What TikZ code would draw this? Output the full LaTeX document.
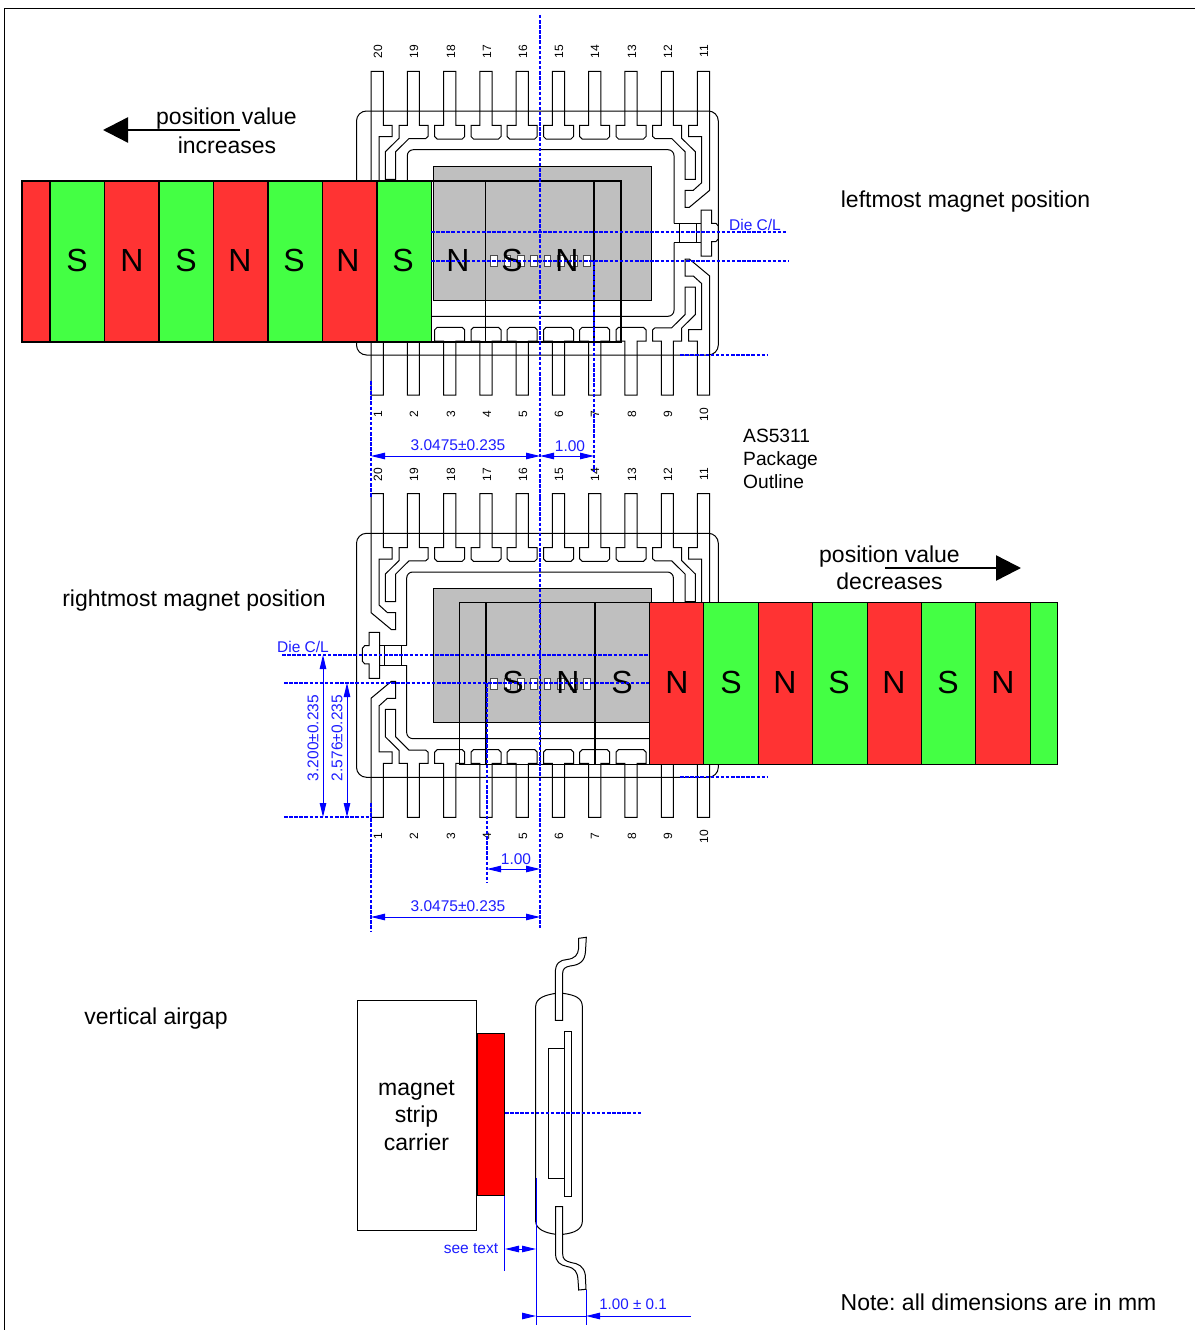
\documentclass[tikz,border=0pt]{standalone}
\usepackage{fontspec}
\setmainfont{Liberation Sans}
\frenchspacing
\usetikzlibrary{arrows.meta}
\definecolor{magred}{RGB}{255,51,51}
\definecolor{maggreen}{RGB}{68,255,68}
\definecolor{diegray}{RGB}{191,191,191}
\definecolor{dimblue}{RGB}{0,0,255}
\definecolor{dimtext}{RGB}{30,30,255}
\tikzset{
  outline/.style={draw=black,line width=1pt,line join=miter},
  centerline/.style={draw=dimblue,line width=1.7pt,dash pattern=on 3.5pt off 1.6pt},
  thindash/.style={draw=dimblue,line width=1.6pt,dash pattern=on 3.5pt off 1.6pt},
  dimline/.style={draw=dimblue,line width=1pt},
  dimarrows/.style={dimline,{Triangle[length=14pt,width=6.5pt]}-{Triangle[length=14pt,width=6.5pt]}},
  dimhead/.style={dimline,-{Triangle[length=14pt,width=6.5pt]}},
  dimlabel/.style={text=dimtext,font=\fontsize{15.5}{17}\selectfont,inner sep=0pt},
  pinlabel/.style={rotate=90,text=black,font=\fontsize{12}{12}\selectfont,inner sep=0pt},
  bigtext/.style={font=\fontsize{23}{27}\selectfont,inner sep=0pt,align=center},
  poletext/.style={font=\fontsize{32}{32}\selectfont,inner sep=0pt},
  bigarrow/.style={draw=black,line width=2.4pt,-{Triangle[length=25pt,width=25pt]}},
  magblock/.style={draw=black,line width=1.2pt},
  magthin/.style={draw=black,line width=0.9pt},
  flipx/.style={xshift=1080.7pt,xscale=-1},
  flipy/.style={yshift=-466.3pt,yscale=-1},
}
% one quarter of the lead frame, upper right corner
\newcommand{\quarterframe}{%
  \foreach \c in {558.5,594.7,631}{
    \draw[outline] (\c-6.2,71.3)--(\c-6.2,125.3)--(\c-15,125.3)--(\c-15,136.5)--(\c-12.5,139)
      --(\c+12.5,139)--(\c+15,136.5)--(\c+15,125.3)--(\c+6.2,125.3)--(\c+6.2,71.3)--cycle;
  }
  \draw[outline] (661.3,71.3)--(661.3,125.3)--(652.7,125.3)--(652.7,136.5)--(655,138.5)--(671.7,138.5)
    --(685,151.7)--(685,179.3)--(695.3,179.3)--(695.3,151.7)--(681.7,138.3)--(681.7,125.3)
    --(673.3,125.3)--(673.3,71.3)--cycle;
  \draw[outline] (697.3,71.3)--(697.3,125.3)--(688.7,125.3)--(688.7,136.7)--(701.7,136.7)
    --(701.7,182.7)--(693.3,190.3)--(685,190.3)--(685,207.3)--(689.3,207.3)--(709.7,190.3)
    --(709.7,71.3)--cycle;
}
\newcommand{\fullframe}{%
  \begin{scope}\quarterframe\end{scope}
  \begin{scope}[flipx]\quarterframe\end{scope}
  \begin{scope}[flipy]\quarterframe\end{scope}
  \begin{scope}[flipx,flipy]\quarterframe\end{scope}
  \draw[outline,rounded corners=6pt] (674,223.3)--(674,149.7)--(407.3,149.7)--(407.3,316.3)--(674,316.3)--(674,242.7);
  \draw[outline] (674,223.3)--(701,223.3) (674,242.7)--(701,242.7)
    (679.3,223.3)--(679.3,242.7) (696,223.3)--(696,242.7);
  \draw[outline] (701,210)--(711.7,210)--(711.7,223.3)--(716,223.3)--(718.3,226)--(718.3,239)
    --(716,241.5)--(711.7,241.5)--(711.7,256)--(701,256)--cycle;
}
\begin{document}
\begin{tikzpicture}[x=1pt,y=-1pt]
\useasboundingbox (0,0) rectangle (1195,1330);
\fill[white] (0,0) rectangle (1195,1330);
\draw[black,line width=0.8pt] (4,1330)--(4,8)--(1195,8);

% ---------- upper package
\fill[diegray,draw=black,line width=0.8pt] (433.3,166.3) rectangle (651.3,300.3);
\foreach \i in {0,...,7}{
  \draw[black!70,fill=white,line width=0.7pt] (490.7+13.3*\i,255.7) rectangle ++(6.7,11);
}
\fullframe
\draw[outline,rounded corners=10pt] (356.5,111) rectangle (718.3,355);
\foreach \xpos/\top/\bot [count=\k] in {378/20/1,414/19/2,451/18/3,487/17/4,523/16/5,559/15/6,595/14/7,632/13/8,668/12/9,704/11/10}{
  \node[pinlabel] (ua\k) at (\xpos,51.5) {\top};
  \node[pinlabel] (ub\k) at (\xpos,414.5) {\bot};
}

% ---------- lower package
\begin{scope}[yshift=-422.3pt]
\fill[diegray,draw=black,line width=0.8pt] (433.3,166.3) rectangle (651.3,300.3);
\foreach \i in {0,...,7}{
  \draw[black!70,fill=white,line width=0.7pt] (490.7+13.3*\i,255.7) rectangle ++(6.7,11);
}
\begin{scope}[flipx]\fullframe\end{scope}
\draw[outline,rounded corners=10pt] (356.5,111) rectangle (718.3,355);
\end{scope}
\foreach \xpos/\top/\bot [count=\k] in {378/20/1,414/19/2,451/18/3,487/17/4,523/16/5,559/15/6,595/14/7,632/13/8,668/12/9,704/11/10}{
  \node[pinlabel] (la\k) at (\xpos,474.5) {\top};
  \node[pinlabel] (lb\k) at (\xpos,836.5) {\bot};
}

% ---------- upper magnet strip
\fill[magred] (22,181) rectangle (50,342);
\foreach \a/\b/\col in {50/104.5/maggreen,104.5/159/magred,159/213.5/maggreen,213.5/268/magred,268/322.5/maggreen,322.5/377/magred,377/431.5/maggreen}{
  \fill[\col] (\a,181) rectangle (\b,342);
}
\draw[magblock] (22,181) rectangle (621,342);
\foreach \a in {50,104.5,159,213.5,268,322.5,377,431.5,594}{
  \draw[magblock] (\a,181)--(\a,342);
}
\draw[magthin] (485.5,181)--(485.5,342);
\foreach \xpos/\pole [count=\k] in {77/S,132/N,186/S,240/N,294/S,348/N,403/S,458/N,512/S,567/N}{
  \node[poletext] (up\k) at (\xpos,260) {\pole};
}

% ---------- lower magnet strip
\foreach \a/\b/\col in {649/703.5/magred,703.5/758/maggreen,758/812.5/magred,812.5/867/maggreen,867/921/magred,921/975.5/maggreen,975.5/1030/magred,1030/1057/maggreen}{
  \fill[\col] (\a,602.5) rectangle (\b,764.5);
}
\draw[magthin] (459,602.5) rectangle (1057,764.5);
\foreach \a in {486,540.5,595}{
  \draw[magblock] (\a,602.5)--(\a,764.5);
}
\foreach \a in {649,703.5,758,812.5,867,921,975.5,1030}{
  \draw[magthin] (\a,602.5)--(\a,764.5);
}
\foreach \xpos/\pole [count=\k] in {513/S,568/N,622/S,677/N,731/S,785/N,839/S,894/N,948/S,1003/N}{
  \node[poletext] (lp\k) at (\xpos,682) {\pole};
}

% ---------- centre lines and dimensions, upper view
\coordinate (cuT) at (540,15);
\coordinate (cuB) at (540,497);
\coordinate (cu1a) at (431,232);
\coordinate (cu1b) at (787,232);
\coordinate (cu2a) at (431,261);
\coordinate (cu2b) at (789,261);
\coordinate (cu3a) at (680,355);
\coordinate (cu3b) at (768,355);
\coordinate (cuL1) at (371,381);
\coordinate (cuL2) at (371,497);
\coordinate (cuR1) at (594,261);
\coordinate (cuR2) at (594,472);
\draw[centerline] (cuT)--(cuB);
\draw[centerline] (cu1a)--(cu1b);
\draw[centerline] (cu2a)--(cu2b);
\draw[centerline] (cu3a)--(cu3b);
\draw[centerline] (cuL1)--(cuL2);
\draw[centerline] (cuR1)--(cuR2);
\coordinate (du1) at (371,456);
\coordinate (du2) at (540,456);
\coordinate (du3) at (594,456);
\draw[dimarrows] (du1)--(du2);
\draw[dimarrows] (du2)--(du3);
\node[dimlabel] (tdu1) at (458,445) {3.0475±0.235};
\node[dimlabel] (tdu2) at (570,446) {1.00};
\node[dimlabel] (tdcu) at (755,225) {Die C/L};

% ---------- centre lines and dimensions, lower view
\coordinate (clT) at (540,497);
\coordinate (clB) at (540,928);
\coordinate (cl1a) at (282,655);
\coordinate (cl1b) at (649,655);
\coordinate (cl2a) at (284,683);
\coordinate (cl2b) at (649,683);
\coordinate (cl3a) at (680,777);
\coordinate (cl3b) at (768,777);
\coordinate (cl4a) at (284,817);
\coordinate (cl4b) at (371,817);
\coordinate (clL1) at (371,803);
\coordinate (clL2) at (371,932);
\coordinate (clM1) at (487,683);
\coordinate (clM2) at (487,882);
\draw[centerline] (clT)--(clB);
\draw[centerline] (cl1a)--(cl1b);
\draw[centerline] (cl2a)--(cl2b);
\draw[centerline] (cl3a)--(cl3b);
\draw[centerline] (cl4a)--(cl4b);
\draw[centerline] (clL1)--(clL2);
\draw[centerline] (clM1)--(clM2);
\coordinate (dl1) at (487,869);
\coordinate (dl2) at (540,869);
\coordinate (dl3) at (371,917);
\coordinate (dl4) at (540,917);
\draw[dimarrows] (dl1)--(dl2);
\draw[dimarrows] (dl3)--(dl4);
\node[dimlabel] (tdl1) at (516,859) {1.00};
\node[dimlabel] (tdl2) at (458,906) {3.0475±0.235};
\node[dimlabel] (tdcl) at (303,647) {Die C/L};
\coordinate (dv1a) at (323,655);
\coordinate (dv1b) at (323,817);
\coordinate (dv2a) at (347,683);
\coordinate (dv2b) at (347,817);
\draw[dimarrows] (dv1a)--(dv1b);
\draw[dimarrows] (dv2a)--(dv2b);
\node[dimlabel,rotate=90] (tdv1) at (313,738) {3.200±0.235};
\node[dimlabel,rotate=90] (tdv2) at (337,738) {2.576±0.235};

% ---------- side view
\draw[outline] (357.5,1000.7) rectangle (476,1230.7);
\fill[red,draw=black,line width=0.8pt] (477.3,1033) rectangle (504.7,1195.7);
\draw[outline] (535.7,1020)--(535.7,1006) .. controls (536,998) and (545,995) .. (556,993.3)
  (563,993.3) .. controls (575,995) and (582,998) .. (582.3,1006)--(582.3,1221.7)
  .. controls (582,1229) and (575,1233) .. (563,1234.3)
  (556,1234.3) .. controls (545,1233) and (536,1229) .. (535.7,1221.7)--(535.7,1020);
\draw[outline,fill=white] (548.3,1048.3) rectangle (564.3,1178.3);
\draw[outline,fill=white] (564.3,1031.3) rectangle (571.3,1196.7);
\draw[outline,fill=white] (555.3,1020.3)--(555.3,973) .. controls (555.3,963) and (560,960) .. (567,959.5)
  .. controls (575,958.5) and (578,955) .. (578.7,948)--(578.7,938.3)--(586.3,937.3)--(585.5,951)
  .. controls (585,961) and (580,965) .. (570,966) .. controls (565,967) and (562.7,969) .. (562.7,973)
  --(562.7,1020.3)--cycle;
\draw[outline,fill=white] (555.6,1206.7)--(555.6,1254) .. controls (555.6,1262) and (560,1265) .. (567,1266.5)
  .. controls (575,1268) and (577.5,1272) .. (578,1280)--(578.7,1290)--(586,1289.3)--(585.3,1275)
  .. controls (584,1266) and (578,1263.5) .. (571,1262.5) .. controls (565,1261) and (562.7,1259) .. (562.7,1254)
  --(562.7,1206.7)--cycle;

\coordinate (sc1) at (505,1113);
\coordinate (sc2) at (642,1113);
\draw[thindash] (sc1)--(sc2);
\coordinate (sv1a) at (504.7,1196);
\coordinate (sv1b) at (504.7,1271);
\coordinate (sv2a) at (536,1178);
\coordinate (sv2b) at (536,1325);
\coordinate (sv3a) at (586,1290);
\coordinate (sv3b) at (586,1325);
\draw[dimline] (sv1a)--(sv1b);
\draw[dimline] (sv2a)--(sv2b);
\draw[dimline] (sv3a)--(sv3b);
\coordinate (sd1) at (505,1249);
\coordinate (sd2) at (536,1249);
\draw[dimarrows] (sd1)--(sd2);
\coordinate (se0) at (522,1316);
\coordinate (se1) at (536,1316);
\coordinate (se2) at (586,1316);
\coordinate (se3) at (691,1316);
\draw[dimhead] (se0)--(se1);
\draw[dimline] (se1)--(se2);
\draw[dimhead] (se3)--(se2);
\node[dimlabel] (tsee) at (471,1249) {see text};
\node[dimlabel,font=\fontsize{15.2}{17}\selectfont] (tone) at (633,1304) {1.00 ± 0.1};

% ---------- black captions
\coordinate (au1) at (240,130);
\coordinate (au2) at (103,130);
\coordinate (al1) at (885,568);
\coordinate (al2) at (1021,568);
\draw[bigarrow] (au1)--(au2);
\draw[bigarrow] (al1)--(al2);
\node[bigtext] (pv1) at (226.5,119) {position value};
\node[bigtext] (inc) at (227,145) {increases};
\node[bigtext] (lm) at (965.5,201.5) {leftmost magnet position};
\node[bigtext] (rm) at (194,600.5) {rightmost magnet position};
\node[bigtext] (pv2) at (889.5,556.5) {position value};
\node[bigtext] (dec) at (889.5,581) {decreases};
\node[bigtext] (va) at (156,1018.5) {vertical airgap};
\node[bigtext,font=\fontsize{23}{27.5}\selectfont] (msc) at (416.5,1115.5) {magnet\\strip\\carrier};
\node[bigtext] (note) at (998.5,1302) {Note: all dimensions are in mm};
\node[inner sep=0pt,align=left,anchor=west,font=\fontsize{19.2}{23}\selectfont] (pkg) at (743,458.5) {AS5311\\Package\\Outline};
\end{tikzpicture}
\end{document}
